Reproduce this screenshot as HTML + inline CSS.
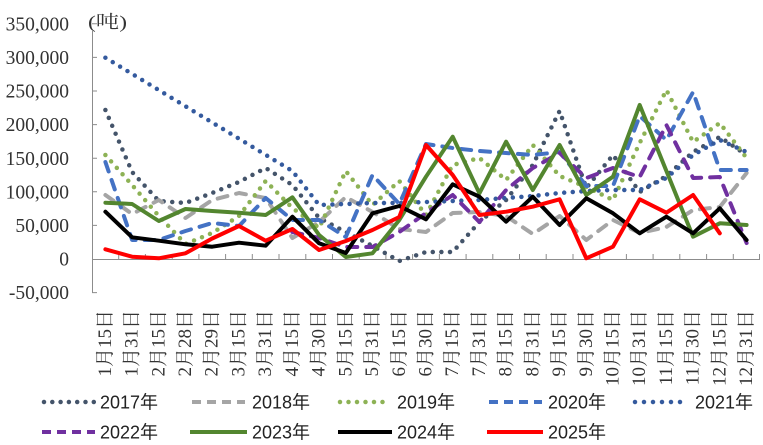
<!DOCTYPE html>
<html><head><meta charset="utf-8"><style>
html,body{margin:0;padding:0;background:#fff;}
svg{display:block;}
.yl{font-family:"Liberation Serif","Noto Serif CJK SC",serif;font-size:19.5px;fill:#333;}
.xl{font-family:"Liberation Serif","Noto Serif CJK SC",serif;font-size:19px;fill:#333;}
.lg{font-family:"Liberation Sans","Noto Sans CJK SC",sans-serif;font-size:18px;fill:#222;}
</style></head><body>
<svg width="763" height="445" viewBox="0 0 763 445" xmlns="http://www.w3.org/2000/svg">
<rect width="763" height="445" fill="#fff"/>
<g class="yl" text-anchor="end">
<text x="69" y="30.5">350,000</text>
<text x="69" y="64">300,000</text>
<text x="69" y="97.5">250,000</text>
<text x="69" y="131">200,000</text>
<text x="69" y="165">150,000</text>
<text x="69" y="198.5">100,000</text>
<text x="69" y="232">50,000</text>
<text x="69" y="265.5">0</text>
<text x="69" y="299">-50,000</text>
</g>
<text x="88" y="28" class="yl" style="font-size:18px" textLength="39" lengthAdjust="spacingAndGlyphs">(吨)</text>
<g stroke="#8c8c8c" stroke-width="1" fill="none">
<line x1="92.5" y1="30" x2="92.5" y2="293"/>
<line x1="92" y1="259.5" x2="760" y2="259.5"/>
<path d="M92 23.8h5M92 57.4h5M92 91h5M92 124.6h5M92 158.2h5M92 191.8h5M92 225.4h5M92 292.6h5"/>
<path d="M118.7 254v5.5M145.4 254v5.5M172.2 254v5.5M198.9 254v5.5M225.6 254v5.5M252.3 254v5.5M279 254v5.5M305.8 254v5.5M332.5 254v5.5M359.2 254v5.5M385.9 254v5.5M412.6 254v5.5M439.4 254v5.5M466.1 254v5.5M492.8 254v5.5M519.5 254v5.5M546.2 254v5.5M573 254v5.5M599.7 254v5.5M626.4 254v5.5M653.1 254v5.5M679.8 254v5.5M706.6 254v5.5M733.3 254v5.5M759.5 254v5.5"/>
</g>
<g fill="none" stroke-width="4" stroke-linejoin="round" stroke-linecap="round">
<polyline stroke="#44546A" stroke-width="4.5" stroke-dasharray="0 8.6" points="105.4,110 132.1,172 158.8,201 185.5,203 212.2,193 239.0,182 265.7,168 292.4,185 319.1,218 345.8,232 372.5,246 399.3,261 426.0,252 452.7,252 479.4,222 506.1,200 532.8,165 559.6,111 586.3,188 613.0,155 639.7,192 666.4,176 693.1,152 719.8,137 746.6,155"/>
<polyline stroke="#A5A5A5" stroke-dasharray="10 9" points="105.4,195 132.1,214 158.8,200 185.5,218 212.2,200 239.0,193 265.7,198 292.4,238 319.1,222 345.8,197 372.5,212 399.3,229 426.0,232 452.7,213 479.4,212 506.1,216 532.8,234 559.6,216 586.3,240 613.0,220 639.7,233 666.4,227 693.1,210 719.8,207 746.6,173"/>
<polyline stroke="#8DB255" stroke-width="4.5" stroke-dasharray="0 8.6" points="105.4,155 132.1,185 158.8,216 185.5,244 212.2,233 239.0,216 265.7,181 292.4,208 319.1,228 345.8,171 372.5,205 399.3,181 426.0,215 452.7,165 479.4,158 506.1,180 532.8,145 559.6,176 586.3,187 613.0,200 639.7,143 666.4,90 693.1,142 719.8,123 746.6,158"/>
<polyline stroke="#4472C4" stroke-dasharray="10 9" points="105.4,162 132.1,240 158.8,240 185.5,231 212.2,223 239.0,226 265.7,198 292.4,220 319.1,220 345.8,237 372.5,175 399.3,204 426.0,144 452.7,148 479.4,151 506.1,153 532.8,155 559.6,152 586.3,186 613.0,186 639.7,116 666.4,140 693.1,92 719.8,170 746.6,170"/>
<polyline stroke="#345A9E" stroke-width="4.5" stroke-dasharray="0 8.6" points="105.4,57.7 132.1,73.9 158.8,90.1 185.5,106.3 212.2,122.5 239.0,138.7 265.7,154.9 292.4,171 319.1,205 345.8,204 372.5,203 399.3,203 426.0,202 452.7,201 479.4,200 506.1,198 532.8,196 559.6,193 586.3,191 613.0,190 639.7,190 666.4,178 693.1,155 719.8,140 746.6,152"/>
<polyline stroke="#7030A0" stroke-dasharray="10 9" points="292.4,232 319.1,238 345.8,247 372.5,247 399.3,232 426.0,213 452.7,195 479.4,222 506.1,190 532.8,168 559.6,153 586.3,178 613.0,168 639.7,177 666.4,125 693.1,178 719.8,177 746.6,243"/>
<polyline stroke="#53862F" points="105.4,202.7 132.1,204 158.8,221 185.5,209 212.2,211 239.0,212.7 265.7,215 292.4,197.3 319.1,235 345.8,257 372.5,253.3 399.3,220 426.0,176.7 452.7,136.7 479.4,193.3 506.1,141.7 532.8,190 559.6,145 586.3,195 613.0,176.7 639.7,105 666.4,171 693.1,236.7 719.8,223.3 746.6,225"/>
<polyline stroke="#000000" points="105.4,211.7 132.1,237.3 158.8,240.7 185.5,244.3 212.2,246.7 239.0,242.7 265.7,245.7 292.4,216.7 319.1,243.3 345.8,253 372.5,213.3 399.3,206 426.0,219.3 452.7,184.3 479.4,196.7 506.1,221.7 532.8,196.7 559.6,225 586.3,198.3 613.0,213.3 639.7,233.3 666.4,216.7 693.1,233.3 719.8,208.3 746.6,240"/>
<polyline stroke="#FF0000" points="105.4,249.3 132.1,256.7 158.8,258.3 185.5,253.3 212.2,238.5 239.0,226 265.7,240.7 292.4,229 319.1,250 345.8,241 372.5,230 399.3,217 426.0,145 452.7,175 479.4,215 506.1,211.7 532.8,206.7 559.6,199.3 586.3,258.3 613.0,246.7 639.7,199.3 666.4,212.7 693.1,195 719.8,233.3"/>
</g>
<g class="xl" text-anchor="end" dominant-baseline="central">
<text transform="translate(105.4,310) rotate(-90)">1月15日</text>
<text transform="translate(132.1,310) rotate(-90)">1月31日</text>
<text transform="translate(158.8,310) rotate(-90)">2月15日</text>
<text transform="translate(185.5,310) rotate(-90)">2月28日</text>
<text transform="translate(212.2,310) rotate(-90)">2月29日</text>
<text transform="translate(239.0,310) rotate(-90)">3月15日</text>
<text transform="translate(265.7,310) rotate(-90)">3月31日</text>
<text transform="translate(292.4,310) rotate(-90)">4月15日</text>
<text transform="translate(319.1,310) rotate(-90)">4月30日</text>
<text transform="translate(345.8,310) rotate(-90)">5月15日</text>
<text transform="translate(372.5,310) rotate(-90)">5月31日</text>
<text transform="translate(399.3,310) rotate(-90)">6月15日</text>
<text transform="translate(426.0,310) rotate(-90)">6月30日</text>
<text transform="translate(452.7,310) rotate(-90)">7月15日</text>
<text transform="translate(479.4,310) rotate(-90)">7月31日</text>
<text transform="translate(506.1,310) rotate(-90)">8月15日</text>
<text transform="translate(532.8,310) rotate(-90)">8月31日</text>
<text transform="translate(559.6,310) rotate(-90)">9月15日</text>
<text transform="translate(586.3,310) rotate(-90)">9月30日</text>
<text transform="translate(613.0,310) rotate(-90)">10月15日</text>
<text transform="translate(639.7,310) rotate(-90)">10月31日</text>
<text transform="translate(666.4,310) rotate(-90)">11月15日</text>
<text transform="translate(693.1,310) rotate(-90)">11月30日</text>
<text transform="translate(719.8,310) rotate(-90)">12月15日</text>
<text transform="translate(746.6,310) rotate(-90)">12月31日</text>
</g>
<g fill="none" stroke-width="4" stroke-linecap="round">
<line x1="44" y1="402" x2="94" y2="402" stroke="#44546A" stroke-width="4.5" stroke-dasharray="0 8.3"/>
<line x1="192" y1="402" x2="245" y2="402" stroke="#A5A5A5" stroke-dasharray="9 6" stroke-linecap="butt"/>
<line x1="340" y1="402" x2="391" y2="402" stroke="#8DB255" stroke-width="4.5" stroke-dasharray="0 8.5"/>
<line x1="489" y1="402" x2="542" y2="402" stroke="#4472C4" stroke-dasharray="9 6" stroke-linecap="butt"/>
<line x1="635" y1="402" x2="689" y2="402" stroke="#345A9E" stroke-width="4.5" stroke-dasharray="0 9"/>
<line x1="42" y1="432" x2="95" y2="432" stroke="#7030A0" stroke-dasharray="9 6" stroke-linecap="butt"/>
<line x1="190" y1="432" x2="247" y2="432" stroke="#53862F" stroke-linecap="butt"/>
<line x1="338" y1="432" x2="392" y2="432" stroke="#000000" stroke-linecap="butt"/>
<line x1="487" y1="432" x2="543" y2="432" stroke="#FF0000" stroke-linecap="butt"/>
</g>
<g class="lg">
<text x="100" y="408.5">2017年</text>
<text x="252" y="408.5">2018年</text>
<text x="397" y="408.5">2019年</text>
<text x="548" y="408.5">2020年</text>
<text x="695" y="408.5">2021年</text>
<text x="100" y="438.5">2022年</text>
<text x="252" y="438.5">2023年</text>
<text x="397" y="438.5">2024年</text>
<text x="548" y="438.5">2025年</text>
</g>
</svg>
</body></html>
